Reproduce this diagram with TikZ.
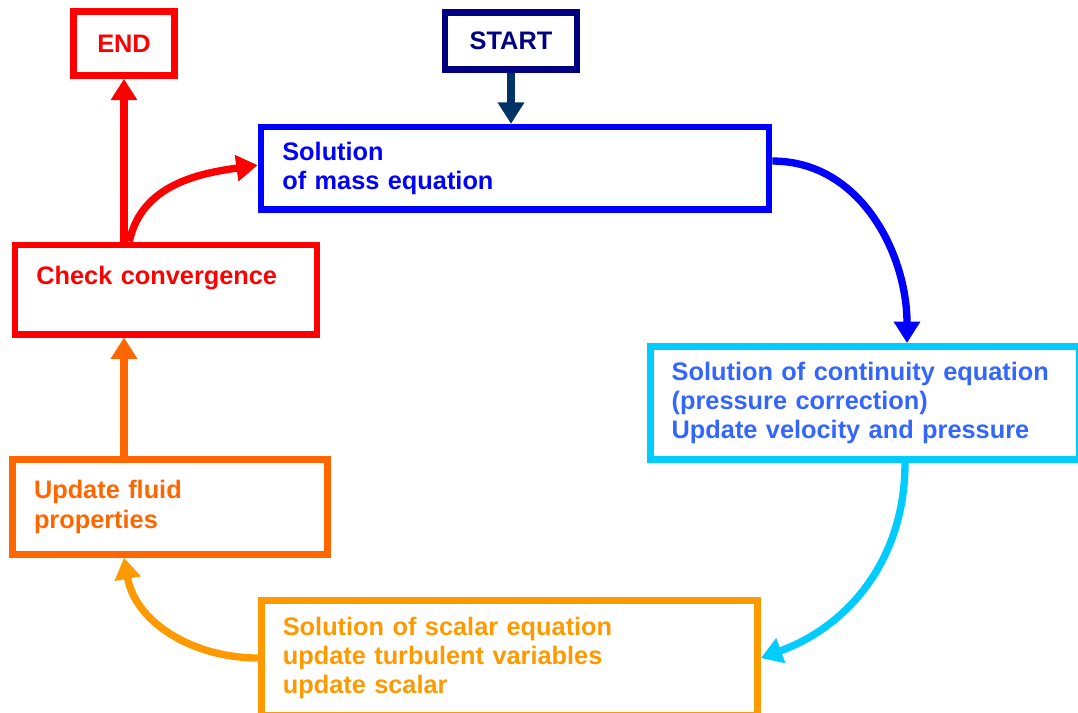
\documentclass[tikz,border=0pt]{standalone}
\usepackage{fontspec}
\setmainfont{Liberation Sans}
\usetikzlibrary{arrows.meta}
\definecolor{startcol}{HTML}{000080}
\definecolor{startarrow}{HTML}{003366}
\definecolor{masscol}{HTML}{0000FF}
\definecolor{contcol}{HTML}{00CCFF}
\definecolor{conttext}{HTML}{3366FF}
\definecolor{scalcol}{HTML}{FF9900}
\definecolor{fluidcol}{HTML}{FF6600}
\definecolor{checkcol}{HTML}{FF0000}
\tikzset{
    stepbox/.style={
        draw,
        line width=5pt,
        rectangle,
        align=left,
        inner xsep=16pt,
        font=\bfseries\fontsize{19}{22}\selectfont
    },
    flow/.style={
        line width=5.5pt,
        -{Triangle[length=16pt,width=19pt]}
    }
}
\begin{document}
\begin{tikzpicture}[x=0.75pt,y=0.75pt]
            \useasboundingbox (0,0) rectangle (1078,-713);
            \node[
                stepbox,
                align=center,
                draw=checkcol,
                text=checkcol,
                minimum width=75.75pt,
                minimum height=48pt,
                name=endbox
            ] at (124,-43.5) {END};
            \node[
                stepbox,
                align=center,
                draw=startcol,
                text=startcol,
                minimum width=99pt,
                minimum height=43pt,
                name=start
            ] at (511,-41) {START};
            \node[
                stepbox,
                draw=masscol,
                text=masscol,
                text width=349pt,
                minimum height=62pt,
                name=mass
            ] at (515,-168.5) {Solution\\of mass equation};
            \node[
                stepbox,
                draw=checkcol,
                text=checkcol,
                text width=194.5pt,
                minimum height=67pt,
                name=check
            ] at (166,-289.5) {Check convergence\\\mbox{}};
            \node[
                stepbox,
                draw=contcol,
                text=conttext,
                text width=290pt,
                minimum height=85pt,
                name=cont
            ] at (865,-403) {Solution of continuity equation\\(pressure correction)\\Update velocity and pressure};
            \node[
                stepbox,
                draw=fluidcol,
                text=fluidcol,
                text width=204pt,
                minimum height=71pt,
                name=fluid
            ] at (170,-507) {Update fluid\\properties};
            \node[
                stepbox,
                draw=scalcol,
                text=scalcol,
                text width=340pt,
                minimum height=86pt,
                name=scalar
            ] at (509.5,-658) {Solution of scalar equation\\update turbulent variables\\update scalar};

            \draw[flow, startarrow] (start.south) -- (start.south |- mass.north);
            \draw[flow, masscol] ([yshift=5.6pt]mass.east) to[out=0, in=90] ([xshift=31.5pt]cont.north);
            \draw[flow, contcol] ([xshift=30pt]cont.south) to[out=-90, in=20] (scalar.east);
            \draw[flow, scalcol] (scalar.west) to[out=180, in=-80] (fluid.south -| endbox);
            \draw[flow, fluidcol] (fluid.north -| endbox) -- (check.south -| endbox);
            \draw[flow, checkcol] (check.north -| endbox) -- (endbox);
            \draw[flow, checkcol] ([xshift=4pt]check.north -| endbox) to[out=78, in=188] ([yshift=2.5pt]mass.west);
        \end{tikzpicture}
\end{document}
